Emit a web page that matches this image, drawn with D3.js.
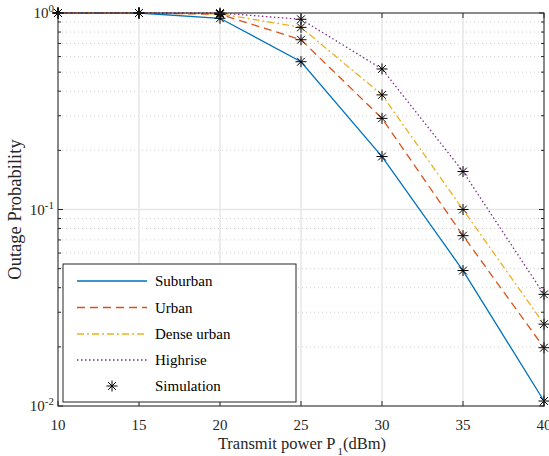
<!DOCTYPE html>
<html><head><meta charset="utf-8">
<script src="https://cdn.jsdelivr.net/npm/d3@7"></script>
<style>body{margin:0;background:#fff;} svg{display:block;}</style>
</head><body>
<script>
const xValues = [10, 15, 20, 25, 30, 35, 40];
const suburban = [1.0, 1.0, 0.94, 0.565, 0.186, 0.0489, 0.0106];
const urban = [1.0, 1.0, 0.985, 0.731, 0.291, 0.0736, 0.0198];
const denseUrban = [1.0, 1.0, 0.99, 0.845, 0.383, 0.100, 0.0261];
const highrise = [1.0, 1.0, 1.0, 0.929, 0.519, 0.156, 0.037];
const seriesNames = ["Suburban", "Urban", "Dense urban", "Highrise"];
const seriesColors = ["#0072BD", "#D95319", "#EDB120", "#7E2F8E"];
const seriesDash = [null, "8,5", "7,3,2,3", "1.5,2.5"];
const xTicks = [10, 15, 20, 25, 30, 35, 40];
const yDecades = [-2, -1, 0];

const W = 549, H = 456;
const m = {l: 58, r: 5, t: 13, b: 50};
const svg = d3.select("body").append("svg").attr("width", W).attr("height", H);
const x = d3.scaleLinear().domain([10, 40]).range([m.l, W - m.r]);
const y = d3.scaleLog().domain([0.01, 1]).range([H - m.b, m.t]);
const font = "Liberation Serif, Times New Roman, serif";

// minor grid
const minorVals = [];
for (let d = -2; d < 0; d++) for (let k = 2; k <= 9; k++) minorVals.push(k * Math.pow(10, d));
svg.append("g").selectAll("line").data(minorVals).join("line")
  .attr("x1", m.l).attr("x2", W - m.r).attr("y1", d => y(d)).attr("y2", d => y(d))
  .attr("stroke", "#d0d0d0").attr("stroke-width", 1).attr("stroke-dasharray", "1,3");
// major grid
svg.append("g").selectAll("line").data(xTicks).join("line")
  .attr("x1", d => x(d)).attr("x2", d => x(d)).attr("y1", m.t).attr("y2", H - m.b)
  .attr("stroke", "#e6e6e6").attr("stroke-width", 1.5);
svg.append("g").selectAll("line").data(yDecades.map(d => Math.pow(10, d))).join("line")
  .attr("x1", m.l).attr("x2", W - m.r).attr("y1", d => y(d)).attr("y2", d => y(d))
  .attr("stroke", "#e6e6e6").attr("stroke-width", 1.5);

// lines
const data = [suburban, urban, denseUrban, highrise];
const line = d3.line().x((d, i) => x(xValues[i])).y(d => y(d));
data.forEach((s, k) => {
  svg.append("path").datum(s).attr("d", line).attr("fill", "none")
    .attr("stroke", seriesColors[k]).attr("stroke-width", 1.3)
    .attr("stroke-dasharray", seriesDash[k]);
});

function star(g, cx, cy, r) {
  const p = [];
  for (let a = 0; a < 4; a++) {
    const t = a * Math.PI / 4;
    p.push(`M${cx - r * Math.cos(t)},${cy - r * Math.sin(t)}L${cx + r * Math.cos(t)},${cy + r * Math.sin(t)}`);
  }
  g.append("path").attr("d", p.join("")).attr("stroke", "#000").attr("stroke-width", 1).attr("fill", "none");
}
const mg = svg.append("g");
data.forEach(s => s.forEach((v, i) => star(mg, x(xValues[i]), y(v), 5.5)));

// axes box
const ax = svg.append("g");
ax.append("rect").attr("x", m.l).attr("y", m.t).attr("width", W - m.r - m.l).attr("height", H - m.b - m.t)
  .attr("fill", "none").attr("stroke", "#262626").attr("stroke-width", 1);
// x ticks
xTicks.forEach(t => {
  ax.append("line").attr("x1", x(t)).attr("x2", x(t)).attr("y1", H - m.b).attr("y2", H - m.b - 5).attr("stroke", "#262626");
  ax.append("line").attr("x1", x(t)).attr("x2", x(t)).attr("y1", m.t).attr("y2", m.t + 5).attr("stroke", "#262626");
  ax.append("text").attr("x", x(t)).attr("y", H - m.b + 24).attr("text-anchor", "middle")
    .attr("font-family", font).attr("font-size", 15).attr("fill", "#262626").text(t);
});
// y ticks
minorVals.concat(yDecades.map(d => Math.pow(10, d))).forEach(v => {
  const len = minorVals.includes(v) ? 3 : 5;
  ax.append("line").attr("x1", m.l).attr("x2", m.l + len).attr("y1", y(v)).attr("y2", y(v)).attr("stroke", "#262626");
  ax.append("line").attr("x1", W - m.r).attr("x2", W - m.r - len).attr("y1", y(v)).attr("y2", y(v)).attr("stroke", "#262626");
});
yDecades.forEach(d => {
  const t = ax.append("text").attr("x", m.l - 4).attr("y", y(Math.pow(10, d)) + 5).attr("text-anchor", "end")
    .attr("font-family", font).attr("font-size", 15).attr("fill", "#262626");
  t.append("tspan").text("10");
  t.append("tspan").attr("dy", -6).attr("font-size", 11).text(d);
});
// axis labels
const xl = svg.append("text").attr("x", (m.l + W - m.r) / 2 + 1).attr("y", H - 7).attr("text-anchor", "middle")
  .attr("font-family", font).attr("font-size", 16.5).attr("fill", "#262626");
xl.append("tspan").text("Transmit power P");
xl.append("tspan").attr("dx", 2).attr("dy", 6).attr("font-size", 11).text("1");
xl.append("tspan").attr("dy", -6).text("(dBm)");
svg.append("text").attr("transform", `translate(21,${(m.t + H - m.b) / 2}) rotate(-90)`).attr("text-anchor", "middle")
  .attr("font-family", font).attr("font-size", 18.5).attr("fill", "#262626").text("Outage Probability");

// legend
const lg = svg.append("g");
lg.append("rect").attr("x", 63).attr("y", 264).attr("width", 233).attr("height", 138)
  .attr("fill", "#fff").attr("stroke", "#262626").attr("stroke-width", 1);
const rows = [281, 307.5, 334, 360, 386];
seriesNames.forEach((n, k) => {
  lg.append("line").attr("x1", 77).attr("x2", 147).attr("y1", rows[k]).attr("y2", rows[k])
    .attr("stroke", seriesColors[k]).attr("stroke-width", 1.6).attr("stroke-dasharray", seriesDash[k]);
  lg.append("text").attr("x", 155).attr("y", rows[k] + 5).attr("font-family", font).attr("font-size", 15)
    .attr("fill", "#000").text(n);
});
star(lg, 112, rows[4], 5.5);
lg.append("text").attr("x", 155).attr("y", rows[4] + 5).attr("font-family", font).attr("font-size", 15)
  .attr("fill", "#000").text("Simulation");
</script>
</body></html>
